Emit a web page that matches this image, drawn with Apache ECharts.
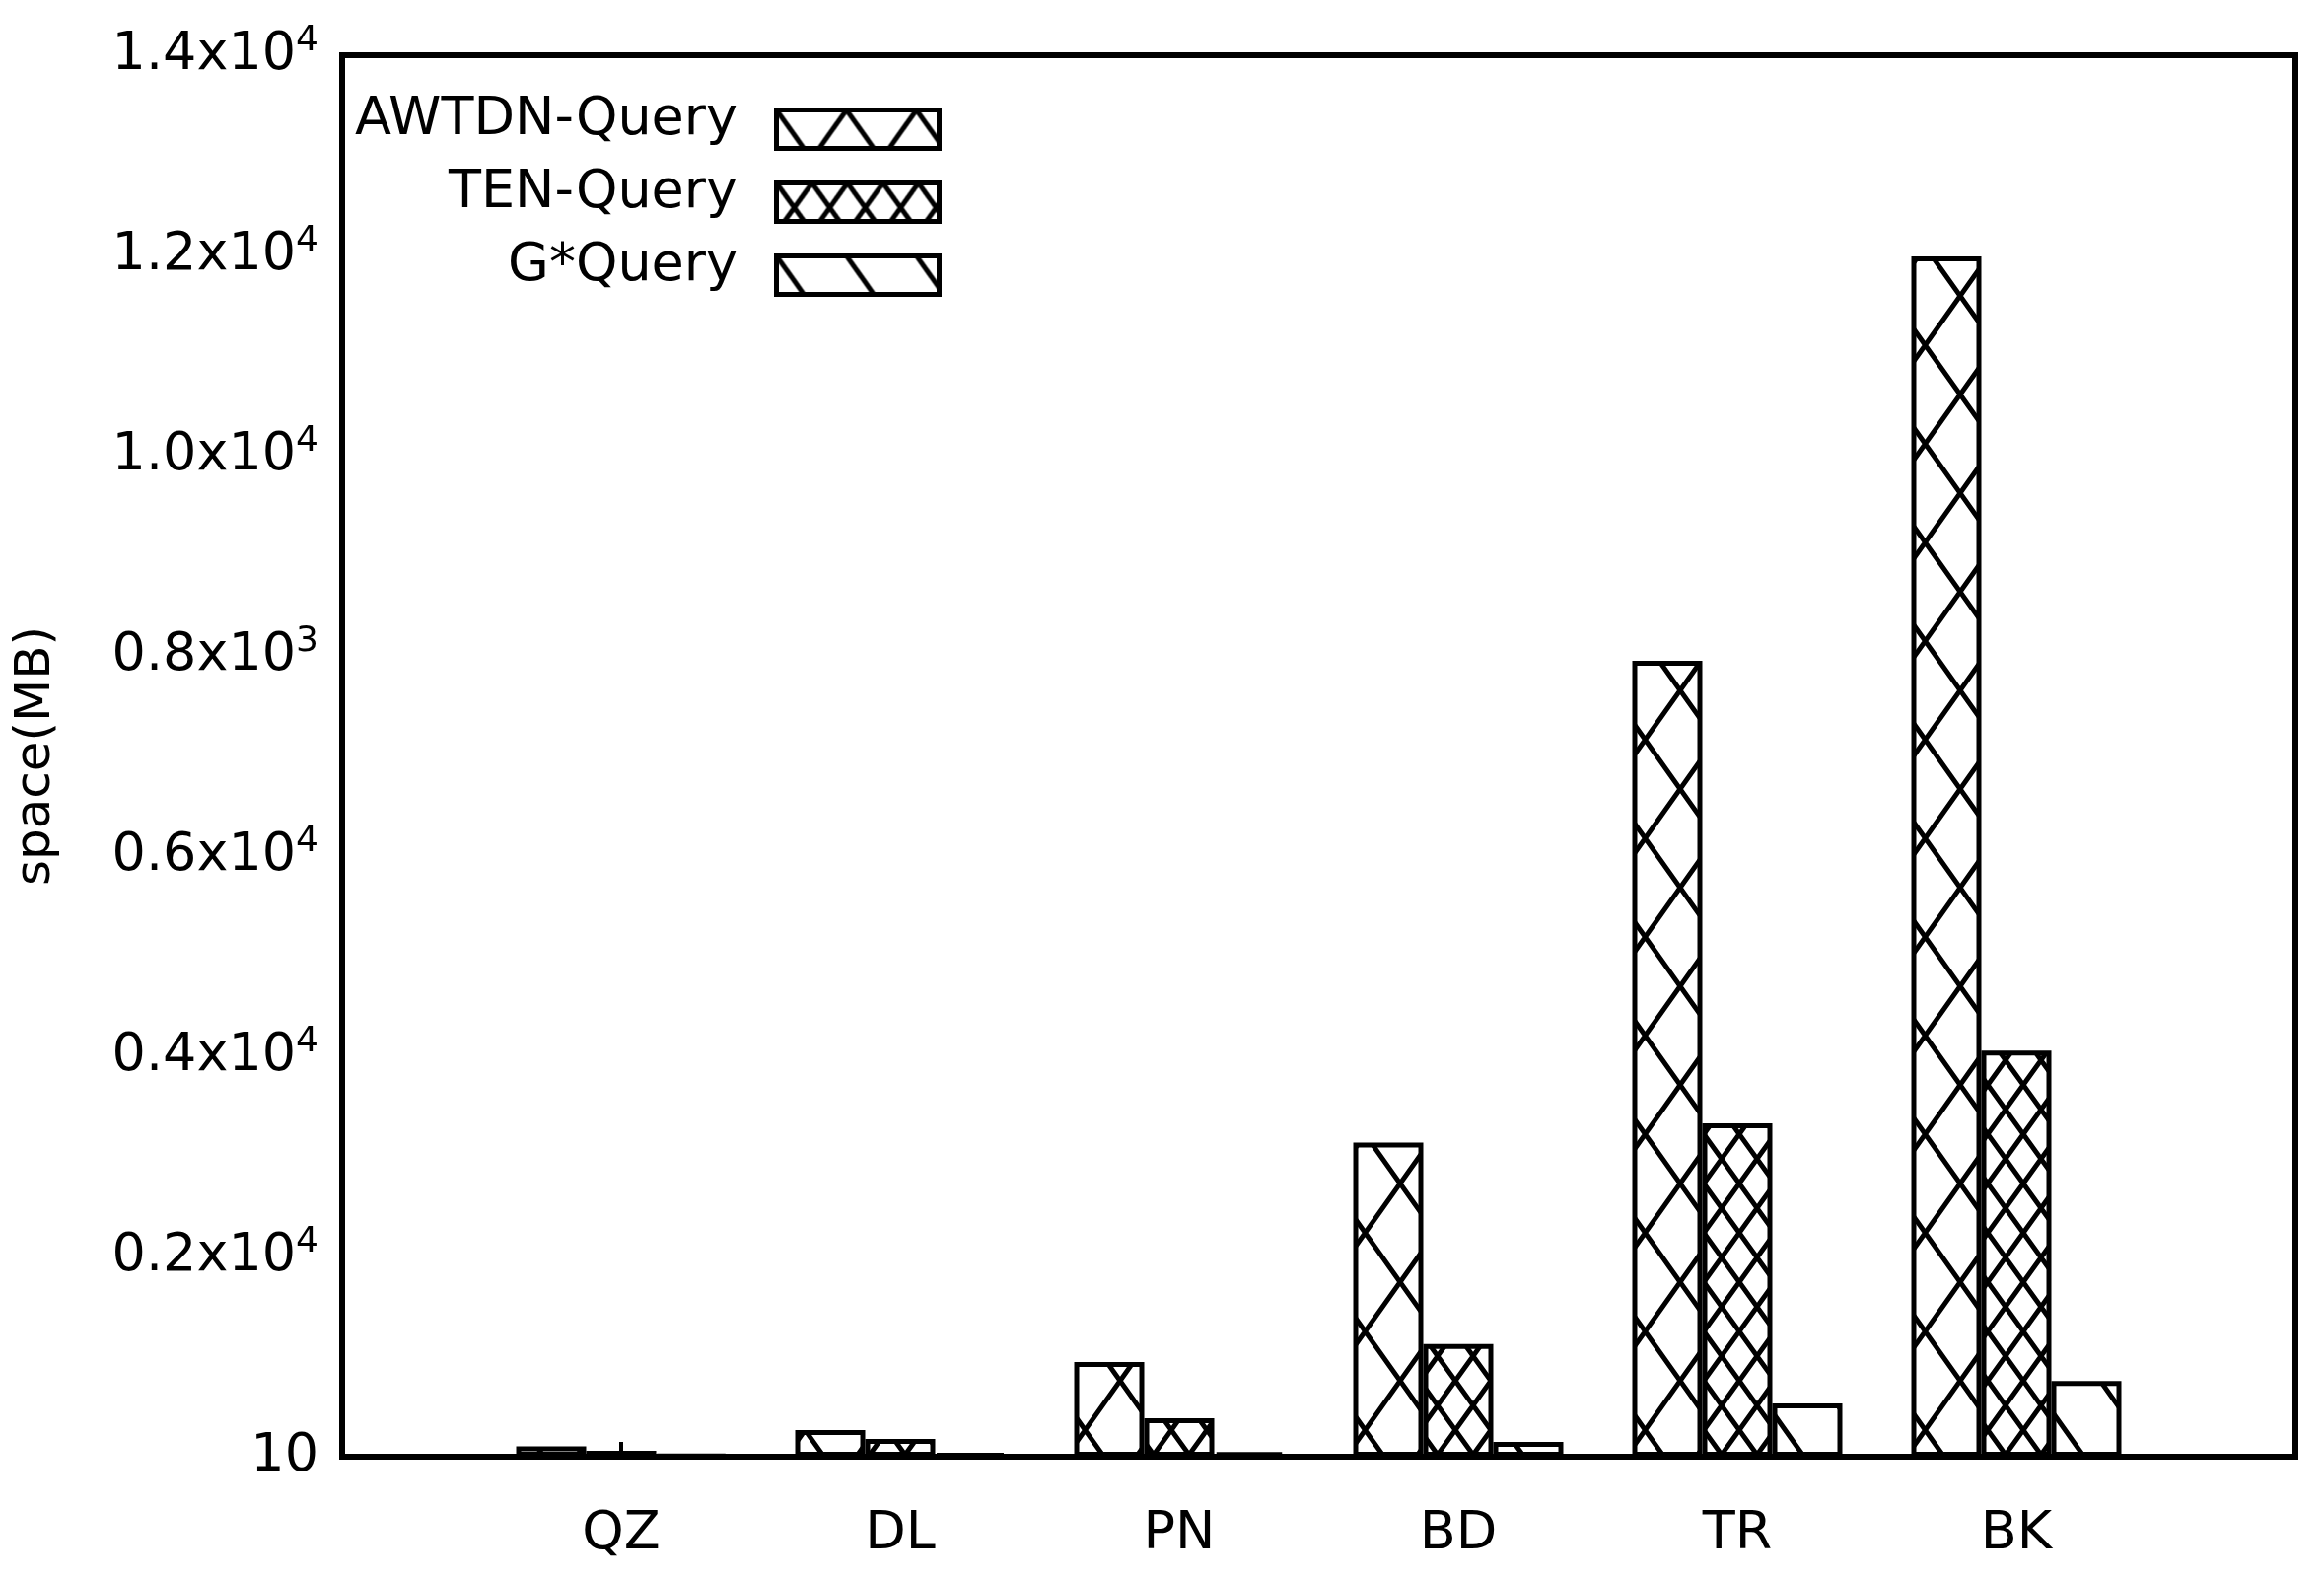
<!DOCTYPE html>
<html><head><meta charset="utf-8">
<script src="https://cdn.jsdelivr.net/npm/echarts@6/dist/echarts.min.js"></script>
<style>html,body{margin:0;padding:0;background:#fff}#c{width:2357px;height:1601px}</style>
</head><body><div id="c"></div>
<script>
const categories = ['', 'QZ', 'DL', 'PN', 'BD', 'TR', 'BK', ''];
const awtdn = [null, 104, 266, 947, 3138, 7950, 11991, null];
const ten = [null, 60, 178, 385, 1125, 3331, 4056, null];
const gstar = [null, 15, 30, 44, 148, 533, 755, null];
const seriesNames = ['AWTDN-Query', 'TEN-Query', 'G*Query'];
const yTickLabels = {0:'10', 2000:'0.2x10{s|4}', 4000:'0.4x10{s|4}', 6000:'0.6x10{s|4}', 8000:'0.8x10{s|3}', 10000:'1.0x10{s|4}', 12000:'1.2x10{s|4}', 14000:'1.4x10{s|4}'};

function tile(w, h, lines) {
  const c = document.createElement('canvas'); c.width = w; c.height = h;
  const g = c.getContext('2d'); g.fillStyle = '#fff'; g.fillRect(0, 0, w, h);
  g.strokeStyle = '#000'; g.lineWidth = 5; g.beginPath();
  lines.forEach(l => { g.moveTo(l[0], l[1]); g.lineTo(l[2], l[3]); });
  g.stroke(); return c;
}
const pA = {image: tile(71, 100, [[0,0,71,100],[71,0,0,100],[-71,0,71,200],[142,0,0,200],[0,-100,142,100],[71,-100,-71,100]]), repeat: 'repeat'};
const pT = {image: tile(36, 50, [[0,0,36,50],[36,0,0,50],[-36,0,36,100],[72,0,0,100],[0,-50,72,50],[36,-50,-36,50]]), repeat: 'repeat'};
const pG = {image: tile(71, 100, [[0,0,71,100],[-71,-100,71,100],[0,-100,142,100]]), repeat: 'repeat'};
const pats = [pA, pT, pG];
const FONT = 'DejaVu Sans';
const chart = echarts.init(document.getElementById('c'));
const mk = (name, data, p) => ({name, type:'bar', data, barWidth:71, barGap:'0%',
  itemStyle:{color:p, borderColor:'#000', borderWidth:5}, animation:false});
const legendG = [];
seriesNames.forEach((n, i) => {
  const y = 128 + i * 74;
  legendG.push({type:'text', right: 2357-748, top: y-33, style:{text:n, font:'54px "DejaVu Sans"', fill:'#000', textAlign:'right'}});
  legendG.push({type:'rect', left:785, top:y-19, shape:{width:165, height:39}, style:{fill:pats[i], stroke:'#000', lineWidth:5}});
});
chart.setOption({
  animation:false,
  grid:{left:347, right:29, top:56, bottom:124, show:true, borderColor:'#000', borderWidth:6},
  xAxis:{type:'category', data:categories, boundaryGap:false,
    axisLine:{lineStyle:{color:'#000', width:6}}, axisTick:{inside:true, length:15, lineStyle:{width:4, color:'#000'}},
    axisLabel:{color:'#000', fontSize:54, fontFamily:FONT, margin:52}},
  yAxis:[{type:'value', min:0, max:14000, interval:2000,
    name:'space(MB)', nameLocation:'middle', nameGap:285, nameRotate:90,
    nameTextStyle:{color:'#000', fontSize:50, fontFamily:FONT},
    axisLine:{show:true, lineStyle:{color:'#000', width:6}}, splitLine:{show:false},
    axisTick:{inside:true, length:15, lineStyle:{width:4, color:'#000'}},
    axisLabel:{color:'#000', fontSize:54, fontFamily:FONT, margin:24,
      formatter: v => yTickLabels[v] || '', rich:{s:{fontSize:36, fontFamily:FONT, verticalAlign:'top', padding:[0,0,28,0]}}}},
   {type:'value', min:0, max:14000, interval:2000, position:'right',
    axisLine:{show:true, lineStyle:{color:'#000', width:6}}, splitLine:{show:false},
    axisTick:{inside:true, length:15, lineStyle:{width:4, color:'#000'}}, axisLabel:{show:false}}],
  series:[mk(seriesNames[0], awtdn, pA), mk(seriesNames[1], ten, pT), mk(seriesNames[2], gstar, pG)],
  graphic: legendG
});
</script></body></html>
